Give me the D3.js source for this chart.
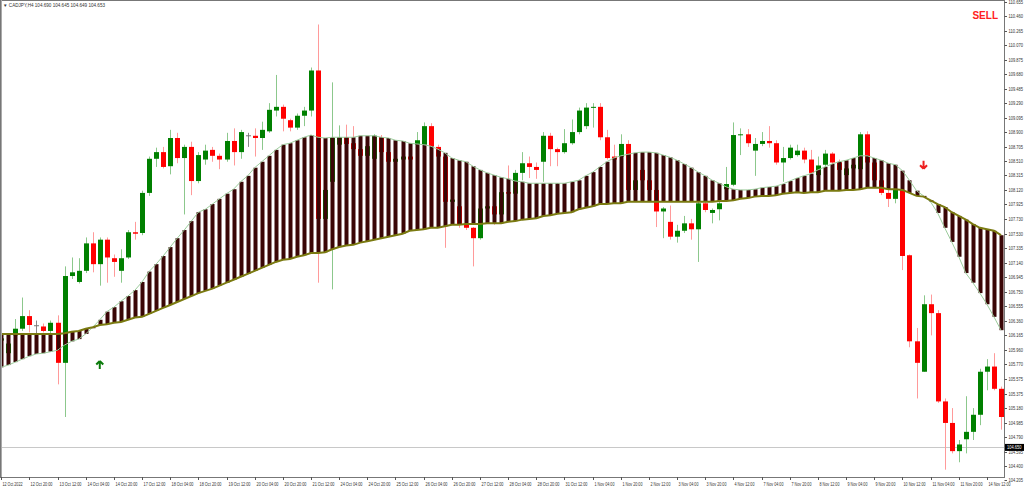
<!DOCTYPE html>
<html><head><meta charset="utf-8">
<script src="https://cdn.jsdelivr.net/npm/d3@7"></script>
<style>body{margin:0;background:#fff}svg{display:block;font-family:"Liberation Sans",Arial,sans-serif}</style>
</head><body><svg id="c" width="1024" height="492"></svg>
<script>
// each candle: [open, close, high, low]
const candles = [
[106.09,106.12,106.16,106.04],[105.92,106.05,106.09,105.87],[106.16,106.25,106.38,106.09],[106.25,106.42,106.67,106.22],
[106.42,106.30,106.50,106.20],[106.29,106.29,106.36,106.18],[106.28,106.22,106.32,106.20],[106.22,106.33,106.36,106.18],
[106.33,105.79,106.43,105.50],[105.79,106.96,107.09,105.06],[106.96,107.01,107.21,106.92],[106.88,107.03,107.20,106.86],
[107.03,107.40,107.48,107.00],[107.40,107.12,107.55,107.01],[107.12,107.45,107.48,106.83],[107.45,107.21,107.48,106.87],
[107.20,107.15,107.25,106.95],[107.03,107.20,107.32,106.87],[107.21,107.55,107.58,107.19],[107.55,107.53,107.69,107.45],
[107.54,108.08,108.11,107.51],[108.08,108.54,108.57,108.04],[108.54,108.63,108.69,108.43],[108.63,108.43,108.70,108.41],
[108.44,108.82,108.93,108.33],[108.82,108.55,108.89,108.48],[108.55,108.70,108.73,107.79],[108.70,108.24,108.77,108.05],
[108.24,108.59,108.63,108.21],[108.53,108.65,108.73,108.46],[108.66,108.58,108.70,108.50],[108.58,108.53,108.61,108.40],
[108.53,108.78,108.89,108.50],[108.78,108.63,108.95,108.45],[108.63,108.90,108.93,108.54],[108.85,108.85,108.89,108.70],
[108.85,108.82,108.95,108.57],[108.82,108.93,109.04,108.66],[108.91,109.20,109.29,108.89],[109.19,109.24,109.67,109.11],
[109.24,109.08,109.27,108.91],[109.06,108.96,109.08,108.91],[108.96,109.12,109.15,108.93],[109.12,109.19,109.24,108.98],
[109.19,109.73,109.77,109.11],[109.73,107.73,110.35,106.87],[107.73,108.12,108.19,107.65],[108.23,108.82,109.57,106.78],
[108.73,108.83,108.99,108.66],[108.83,108.74,109.00,108.70],[108.75,108.67,108.98,108.63],[108.67,108.58,108.70,108.55],
[108.58,108.71,108.74,108.55],[108.54,108.85,108.87,108.50],[108.83,108.63,108.86,108.59],[108.63,108.50,108.66,108.46],
[108.50,108.54,108.58,108.48],[108.53,108.57,108.59,108.50],[108.57,108.53,108.61,108.48],[108.73,108.79,108.90,108.69],
[108.73,108.98,109.03,108.70],[108.98,108.71,109.02,108.67],[108.70,108.57,108.73,108.53],[108.57,107.96,108.59,107.34],
[107.96,107.99,108.00,107.91],[107.90,107.65,107.91,107.61],[107.65,107.61,107.67,107.58],[107.61,107.47,107.62,107.09],
[107.47,107.87,107.90,107.45],[107.87,107.90,107.91,107.85],[107.90,107.79,107.94,107.65],[107.79,108.09,108.13,107.77],
[108.09,108.07,108.45,108.04],[108.07,108.35,108.39,108.04],[108.35,108.48,108.63,108.25],[108.48,108.43,108.57,108.28],
[108.43,108.39,108.49,108.27],[108.50,108.85,108.90,108.23],[108.85,108.67,108.89,108.44],[108.67,108.63,108.69,108.44],
[108.63,108.75,108.94,108.61],[108.75,108.90,109.07,108.73],[108.90,109.19,109.23,108.87],[108.98,109.23,109.29,108.94],
[109.23,109.24,109.29,108.96],[109.24,108.83,109.29,108.79],[108.83,108.55,108.93,108.53],[108.57,108.53,108.73,108.50],
[108.57,108.74,108.87,108.53],[108.74,108.12,108.79,108.09],[108.12,108.25,108.32,108.09],[108.39,108.25,108.50,108.21],
[108.25,108.12,108.28,108.08],[108.12,107.83,108.17,107.62],[107.83,107.87,107.89,107.47],[107.69,107.49,107.91,107.45],
[107.49,107.57,107.65,107.41],[107.57,107.67,107.77,107.54],[107.67,107.59,107.73,107.45],[107.59,107.94,107.98,107.15],
[107.94,107.85,107.96,107.82],[107.81,107.85,107.87,107.67],[107.86,107.94,107.98,107.71],[108.13,108.20,108.43,108.12],
[108.19,108.86,109.03,108.17],[108.86,108.87,108.95,108.59],[108.87,108.75,108.94,108.70],[108.65,108.74,108.82,108.31],
[108.74,108.78,108.90,108.71],[108.78,108.75,108.98,108.69],[108.75,108.49,108.79,108.46],[108.49,108.55,108.70,108.23],
[108.55,108.69,108.73,108.53],[108.59,108.65,108.73,108.57],[108.65,108.53,108.69,108.48],[108.53,108.35,108.66,108.32],
[108.32,108.45,108.57,108.28],[108.46,108.61,108.66,108.42],[108.61,108.49,108.63,108.46],[108.49,108.39,108.53,108.28],
[108.32,108.41,108.46,108.28],[108.41,108.46,108.53,108.39],[108.40,108.87,108.90,108.39],[108.87,108.49,108.91,108.46],
[108.49,108.25,108.53,108.19],[108.25,108.08,108.28,108.05],[108.08,108.00,108.12,107.89],[108.00,108.12,108.17,107.94],
[108.12,107.23,108.15,107.04],[107.24,106.08,107.25,106.00],[106.08,105.79,106.26,105.31],[105.67,106.58,106.70,105.67],
[106.58,106.46,106.71,106.16],[106.46,105.27,106.50,105.25],[105.27,104.98,105.31,104.35],[104.98,104.60,105.18,104.57],
[104.60,104.69,104.75,104.45],[104.76,104.86,105.34,104.57],[104.86,105.09,105.18,104.75],[105.09,105.67,105.71,104.95],
[105.67,105.74,105.84,105.42],[105.74,105.44,105.92,105.42],[105.44,105.06,105.47,104.89]
];
const fastMA = [
105.73,105.76,105.80,105.84,105.88,105.91,105.92,105.94,105.96,106.03,106.08,106.11,106.18,106.27,106.37,106.48,
106.54,106.62,106.69,106.77,106.88,107.02,107.12,107.23,107.35,107.47,107.58,107.70,107.82,107.86,107.93,108.00,
108.07,108.13,108.23,108.31,108.42,108.50,108.58,108.66,108.73,108.75,108.79,108.83,108.86,108.83,108.82,108.83,
108.83,108.83,108.83,108.85,108.85,108.85,108.83,108.82,108.79,108.78,108.75,108.74,108.73,108.71,108.67,108.62,
108.55,108.52,108.50,108.44,108.39,108.35,108.32,108.29,108.27,108.24,108.23,108.21,108.21,108.21,108.21,108.21,
108.21,108.23,108.25,108.31,108.36,108.43,108.50,108.55,108.58,108.60,108.62,108.63,108.63,108.62,108.59,108.56,
108.52,108.47,108.42,108.36,108.31,108.25,108.21,108.16,108.13,108.12,108.12,108.13,108.15,108.16,108.17,108.20,
108.24,108.28,108.31,108.34,108.39,108.43,108.47,108.50,108.52,108.55,108.58,108.58,108.55,108.52,108.48,108.46,
108.38,108.25,108.11,108.04,107.96,107.81,107.61,107.42,107.22,107.00,106.87,106.73,106.58,106.41,106.23
];
const slowMA = [
106.18,106.18,106.18,106.18,106.18,106.18,106.18,106.18,106.18,106.19,106.21,106.22,106.25,106.27,106.30,106.31,
106.33,106.34,106.37,106.40,106.41,106.45,106.49,106.53,106.57,106.61,106.65,106.69,106.73,106.76,106.79,106.83,
106.87,106.91,106.95,106.99,107.03,107.07,107.11,107.15,107.18,107.19,107.22,107.24,107.27,107.27,107.28,107.32,
107.35,107.37,107.38,107.41,107.43,107.45,107.47,107.49,107.51,107.53,107.57,107.58,107.59,107.61,107.61,107.63,
107.65,107.65,107.66,107.66,107.66,107.67,107.67,107.67,107.69,107.70,107.72,107.73,107.74,107.77,107.78,107.80,
107.81,107.82,107.86,107.88,107.90,107.93,107.93,107.94,107.94,107.96,107.96,107.96,107.96,107.96,107.96,107.96,
107.96,107.96,107.96,107.96,107.96,107.96,107.97,107.97,107.98,108.00,108.01,108.03,108.04,108.04,108.05,108.07,
108.08,108.09,108.08,108.09,108.09,108.11,108.11,108.11,108.12,108.12,108.13,108.15,108.15,108.15,108.13,108.13,
108.12,108.08,108.04,108.03,107.98,107.93,107.89,107.82,107.77,107.72,107.66,107.61,107.59,107.57,107.51
];
const priceTicks = [110.655,110.460,110.265,110.070,109.875,109.680,109.485,109.290,109.095,108.900,108.705,108.510,
108.315,108.120,107.925,107.730,107.530,107.335,107.140,106.945,106.750,106.555,106.360,106.165,105.960,105.770,
105.575,105.375,105.180,104.985,104.790,104.595,104.400,104.205];
const timeLabels = ["12 Oct 2022","12 Oct 20:00","13 Oct 12:00","14 Oct 04:00","14 Oct 20:00","17 Oct 12:00",
"18 Oct 04:00","18 Oct 20:00","19 Oct 12:00","20 Oct 04:00","20 Oct 20:00","21 Oct 12:00","24 Oct 04:00",
"24 Oct 20:00","25 Oct 12:00","26 Oct 04:00","26 Oct 20:00","27 Oct 12:00","28 Oct 04:00","28 Oct 20:00",
"31 Oct 12:00","1 Nov 04:00","1 Nov 20:00","2 Nov 12:00","3 Nov 04:00","3 Nov 20:00","4 Nov 12:00","7 Nov 04:00",
"7 Nov 20:00","8 Nov 12:00","9 Nov 04:00","9 Nov 20:00","10 Nov 12:00","11 Nov 04:00","11 Nov 20:00","14 Nov 12:00"];
const labelEvery = 4;
const signals = [{bar:14, price:105.76, dir:"up"},{bar:131, price:108.46, dir:"down"}];
const currentPrice = 104.650;
const title = "CADJPY,H4  104.690 104.645 104.649 104.653";

const svg = d3.select("#c");
const N = candles.length;
const x = d3.scalePoint().domain(d3.range(N)).range([1.2, 1001]);
const y = d3.scaleLinear().domain([110.68, 110.68 - 492/74.2]).range([0, 492]);
const plotR = 1004, plotB = 477;
const FS = 4.6;

const g = svg.append("g");
g.append("line").attr("x1",0).attr("x2",plotR).attr("y1",Math.round(y(currentPrice))+0.5).attr("y2",Math.round(y(currentPrice))+0.5)
  .attr("stroke","#c8c8c8").attr("stroke-width",1);

const bull = "#008000", bear = "#ff0000";
const cg = g.append("g");
candles.forEach((d,i)=>{
  const [o,c,h,l] = d;
  const col = c>o ? bull : (c<o ? bear : "#777");
  const wick = c>o ? "#8cc88c" : (c<o ? "#ff9a9a" : "#888");
  const cx = Math.round(x(i))+0.5;
  cg.append("line").attr("x1",cx).attr("x2",cx).attr("y1",y(h)).attr("y2",y(l)).attr("stroke",wick).attr("stroke-width",1);
  const top = y(Math.max(o,c)), bot = y(Math.min(o,c));
  if (o===c) cg.append("line").attr("x1",cx-2.5).attr("x2",cx+2.5).attr("y1",top).attr("y2",top).attr("stroke",col);
  else cg.append("rect").attr("x",cx-2.5).attr("y",top).attr("width",5).attr("height",Math.max(1,bot-top)).attr("fill",col);
});

const hg = g.append("g");
fastMA.forEach((f,i)=>{
  const s = slowMA[i];
  const a = y(Math.max(f,s)), b = y(Math.min(f,s));
  hg.append("rect").attr("x",Math.round(x(i))-1.5).attr("y",a).attr("width",4).attr("height",Math.max(1,b-a)).attr("fill","#3a0606");
});
const line = d3.line().x((d,i)=>x(i)).y(d=>y(d));
g.append("path").datum(fastMA).attr("d",line).attr("fill","none").attr("stroke","#9ccc9c").attr("stroke-width",1);
g.append("path").datum(slowMA).attr("d",line).attr("fill","none").attr("stroke","#7a7a10").attr("stroke-width",2);

signals.forEach(s=>{
  const cx = x(s.bar), cy = y(s.price);
  const col = s.dir==="up" ? "#0a7a0a" : "#ee2020";
  const k = s.dir==="up" ? -1 : 1;
  g.append("path").attr("d",`M${cx},${cy+k*4} L${cx-3.5},${cy+k*0.5} M${cx},${cy+k*4} L${cx+3.5},${cy+k*0.5} M${cx},${cy+k*4} L${cx},${cy-k*4}`)
    .attr("stroke",col).attr("stroke-width",2).attr("fill","none");
});

svg.append("rect").attr("x",0.5).attr("y",0.5).attr("width",plotR).attr("height",plotB).attr("fill","none").attr("stroke","#777").attr("stroke-width",1);
svg.append("line").attr("x1",1.5).attr("x2",1.5).attr("y1",0).attr("y2",plotB).attr("stroke","#aaa");

const pa = svg.append("g").attr("font-size",FS).attr("fill","#333");
priceTicks.forEach(p=>{
  const yy = Math.round(y(p))+0.5;
  pa.append("line").attr("x1",plotR+0.5).attr("x2",plotR+3).attr("y1",yy).attr("y2",yy).attr("stroke","#555");
  pa.append("text").attr("x",plotR+4.5).attr("y",yy+1.7).attr("textLength",14.5).attr("lengthAdjust","spacingAndGlyphs").text(p.toFixed(3));
});
const cpY = y(currentPrice);
svg.append("rect").attr("x",plotR+1).attr("y",cpY-3.5).attr("width",19).attr("height",7).attr("fill","#000");
svg.append("text").attr("x",plotR+3).attr("y",cpY+1.7).attr("font-size",FS).attr("fill","#fff")
  .attr("textLength",14.5).attr("lengthAdjust","spacingAndGlyphs").text(currentPrice.toFixed(3));

const ta = svg.append("g").attr("font-size",FS).attr("fill","#333");
timeLabels.forEach((t,k)=>{
  const xx = Math.round(x(k*labelEvery))+0.5;
  ta.append("line").attr("x1",xx).attr("x2",xx).attr("y1",plotB).attr("y2",plotB+3).attr("stroke","#555");
  ta.append("text").attr("x",xx+1).attr("y",plotB+9).attr("textLength",t.length>11?22:20).attr("lengthAdjust","spacingAndGlyphs").text(t);
});

svg.append("text").attr("x",3).attr("y",7).attr("font-size",FS).attr("fill","#333").text("▼ "+title);
svg.append("text").attr("x",998).attr("y",19).attr("text-anchor","end").attr("font-size",10).attr("font-weight","bold")
  .attr("fill","#ff2020").text("SELL");
</script></body></html>
